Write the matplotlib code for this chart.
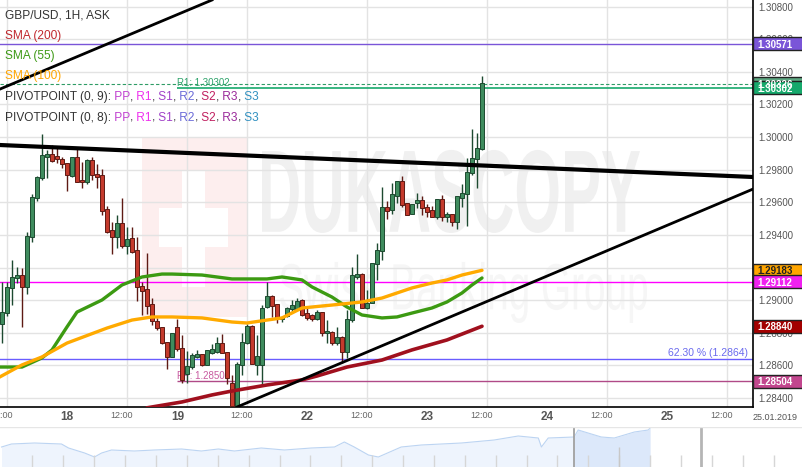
import matplotlib
matplotlib.use("Agg")
import matplotlib.pyplot as plt
import numpy as np
from matplotlib.patches import Rectangle, PathPatch
from matplotlib.textpath import TextPath
from matplotlib.font_manager import FontProperties
from matplotlib.transforms import Affine2D, blended_transform_factory

plt.rcParams['font.family'] = ['Liberation Sans', 'DejaVu Sans']

# hourly candles, hour 0 = 17 Jan 12:00
hours = list(range(-1, 96))
opens = [1.28854, 1.28921, 1.29075, 1.29136, 1.29154, 1.29081, 1.29387, 1.29626, 1.29749, 1.29878,
         1.29896, 1.29884, 1.29865, 1.29841, 1.29761, 1.29878, 1.29737, 1.29724, 1.29859, 1.29773,
         1.29767, 1.29559, 1.29430, 1.29387, 1.29473, 1.29332, 1.29381, 1.29308, 1.29087, 1.29068,
         1.28977, 1.28872, 1.28836, 1.28744, 1.28652, 1.28836, 1.28707, 1.28547, 1.28590, 1.28652,
         1.28670, 1.28603, 1.28676, 1.28682, 1.28737, 1.28682, 1.28492, 1.28351, 1.28603, 1.28737,
         1.28842, 1.28603, 1.28603, 1.28958, 1.29026, 1.28977, 1.28884, 1.28903, 1.28946, 1.28946,
         1.29001, 1.28921, 1.28909, 1.28884, 1.28927, 1.28799, 1.28805, 1.28737, 1.28774, 1.28682,
         1.28878, 1.29142, 1.29160, 1.28952, 1.28983, 1.29222, 1.29301, 1.29571, 1.29553, 1.29638,
         1.29730, 1.29596, 1.29528, 1.29596, 1.29614, 1.29571, 1.29553, 1.29510, 1.29620, 1.29510,
         1.29528, 1.29479, 1.29626, 1.29651, 1.29780, 1.29865, 1.29927]
highs = [1.29111, 1.29111, 1.29246, 1.29203, 1.29197, 1.29418, 1.29651, 1.29761, 1.30019, 1.29921,
         1.29951, 1.29933, 1.29878, 1.29841, 1.29878, 1.29933, 1.29847, 1.29865, 1.29878, 1.29835,
         1.29804, 1.29577, 1.29479, 1.29522, 1.29626, 1.29449, 1.29449, 1.29387, 1.29111, 1.29289,
         1.29013, 1.28891, 1.28836, 1.28744, 1.28799, 1.28884, 1.28786, 1.28688, 1.28676, 1.28695,
         1.28670, 1.28695, 1.28731, 1.28774, 1.28793, 1.28682, 1.28541, 1.28621, 1.28799, 1.28854,
         1.28848, 1.28786, 1.28970, 1.29111, 1.29032, 1.28977, 1.28903, 1.28958, 1.29001, 1.29013,
         1.29007, 1.28958, 1.28915, 1.28940, 1.28927, 1.28878, 1.28811, 1.28836, 1.28780, 1.28940,
         1.29203, 1.29283, 1.29167, 1.29062, 1.29228, 1.29350, 1.29694, 1.29608, 1.29718, 1.29730,
         1.29761, 1.29596, 1.29589, 1.29657, 1.29638, 1.29589, 1.29577, 1.29620, 1.29645, 1.29540,
         1.29528, 1.29638, 1.29712, 1.29872, 1.30049, 1.30025, 1.30374]
lows = [1.28737, 1.28903, 1.28970, 1.29105, 1.28836, 1.29038, 1.29357, 1.29608, 1.29737, 1.29749,
        1.29847, 1.29841, 1.29810, 1.29669, 1.29755, 1.29724, 1.29688, 1.29712, 1.29737, 1.29688,
        1.29522, 1.29412, 1.29283, 1.29320, 1.29320, 1.29283, 1.29289, 1.28995, 1.28909, 1.28915,
        1.28848, 1.28817, 1.28731, 1.28578, 1.28652, 1.28688, 1.28492, 1.28492, 1.28578, 1.28646,
        1.28596, 1.28603, 1.28670, 1.28676, 1.28676, 1.28486, 1.28351, 1.28351, 1.28541, 1.28731,
        1.28609, 1.28541, 1.28480, 1.28952, 1.28897, 1.28860, 1.28866, 1.28897, 1.28927, 1.28940,
        1.28903, 1.28878, 1.28872, 1.28878, 1.28780, 1.28737, 1.28725, 1.28725, 1.28615, 1.28646,
        1.28866, 1.29130, 1.28952, 1.28946, 1.28983, 1.29124, 1.29246, 1.29498, 1.29528, 1.29596,
        1.29571, 1.29522, 1.29528, 1.29565, 1.29522, 1.29510, 1.29510, 1.29498, 1.29485, 1.29479,
        1.29455, 1.29436, 1.29571, 1.29455, 1.29767, 1.29688, 1.29921]
closes = [1.28927, 1.29081, 1.29142, 1.29154, 1.29081, 1.29393, 1.29632, 1.29755, 1.29890, 1.29896,
          1.29853, 1.29865, 1.29835, 1.29767, 1.29878, 1.29724, 1.29724, 1.29859, 1.29767, 1.29755,
          1.29547, 1.29418, 1.29387, 1.29473, 1.29332, 1.29375, 1.29295, 1.29081, 1.29056, 1.28964,
          1.28872, 1.28829, 1.28737, 1.28652, 1.28799, 1.28701, 1.28511, 1.28596, 1.28664, 1.28670,
          1.28603, 1.28695, 1.28701, 1.28737, 1.28676, 1.28523, 1.28351, 1.28609, 1.28744, 1.28842,
          1.28609, 1.28658, 1.28952, 1.29026, 1.28964, 1.28891, 1.28897, 1.28952, 1.28970, 1.28995,
          1.28909, 1.28891, 1.28884, 1.28927, 1.28799, 1.28811, 1.28737, 1.28774, 1.28682, 1.28884,
          1.29154, 1.29160, 1.28952, 1.28983, 1.29228, 1.29308, 1.29571, 1.29547, 1.29651, 1.29730,
          1.29583, 1.29522, 1.29589, 1.29614, 1.29565, 1.29540, 1.29510, 1.29620, 1.29510, 1.29528,
          1.29479, 1.29638, 1.29657, 1.29786, 1.29872, 1.29933, 1.30331]

# moving averages
sma55_h = [-2, 3, 7, 9, 12, 14, 19, 23, 27, 31, 33, 39, 45, 52, 55, 59, 61, 65, 68, 71, 75, 78, 81, 85, 88, 91, 93, 95]
sma55 = [1.28590, 1.28590, 1.28646, 1.28695, 1.28836, 1.28927, 1.29001, 1.29093, 1.29142, 1.29160,
         1.29160, 1.29154, 1.29130, 1.29130, 1.29142, 1.29124, 1.29081, 1.29019, 1.28958, 1.28909,
         1.28891, 1.28897, 1.28921, 1.28952, 1.28989, 1.29044, 1.29093, 1.29136]
sma100_h = [-2, 3, 7, 12, 20, 25, 29, 33, 39, 45, 48, 52, 55, 59, 65, 71, 75, 78, 81, 85, 88, 91, 95]
sma100 = [1.28520, 1.28603, 1.28652, 1.28737, 1.28829, 1.28878, 1.28897, 1.28897, 1.28891, 1.28866,
          1.28860, 1.28878, 1.28891, 1.28952, 1.28970, 1.28989, 1.29013, 1.29044, 1.29075, 1.29105,
          1.29124, 1.29154, 1.29183]
sma200_h = [28, 35, 41, 45, 52, 59, 62, 68, 75, 81, 88, 95]
sma200 = [1.28340, 1.28376, 1.28419, 1.28443, 1.28480, 1.28511, 1.28535, 1.28590, 1.28633, 1.28695,
          1.28756, 1.28840]

# trend lines (hour, price)
trend_lines = [([-1.4, 41.0], [1.30294, 1.30840], 2.0),
               ([-1.4, 149.2], [1.29951, 1.29755], 3.0),
               ([46.0, 149.2], [1.28345, 1.29681], 2.0)]

level_fibo = 1.2864
level_r1 = 1.30302
level_pp = 1.28504
level_last = 1.30326
level_purple = 1.30571
level_magenta = 1.29112

box_levels = [1.30571, 1.30326, 1.30302, 1.29183, 1.29112, 1.28840, 1.28504]
box_fill = ['#7a55d8', '#5ea882', '#16a96c', '#ffa500', '#f020f0', '#a30000', '#c2468e']
box_text = ['white', 'white', 'white', '#222222', 'white', 'white', 'white']

tick_pos = [-1, 12, 23, 34.2, 47, 60, 71, 84, 95, 108, 119, 132, 143]
tick_lab = ['12:00', '18', '12:00', '19', '12:00', '22', '12:00', '23', '12:00', '24', '12:00', '25', '12:00']

# navigator series (day, value)
nav_t = [0, 0.32, 1.07, 1.94, 2.17, 2.69, 3.01, 3.24, 3.56, 4.30, 4.95, 5.83, 6.47, 7.02, 7.54, 8.41,
         9.16, 10.03, 10.78, 11.10, 11.42, 11.88, 12.20, 12.94, 13.59, 14.89, 15.95, 16.73, 17.38,
         17.48, 17.70, 18.54, 18.67, 19.42, 19.84, 20.49, 20.94, 21.0]
nav_v = [1.286, 1.292, 1.294, 1.292, 1.284, 1.274, 1.266, 1.274, 1.280, 1.278, 1.280, 1.282, 1.278,
         1.282, 1.278, 1.284, 1.280, 1.284, 1.286, 1.296, 1.286, 1.270, 1.266, 1.286, 1.290, 1.294,
         1.300, 1.308, 1.304, 1.286, 1.304, 1.306, 1.320, 1.306, 1.304, 1.316, 1.320, 1.324]

W, H = 803, 467
fig = plt.figure(figsize=(W / 100, H / 100), dpi=100)
ax = fig.add_axes([0, 1 - 407 / H, 753 / W, 407 / H])
ymin, ymax = 1.28345, 1.30840
ax.set_xlim(-1.4, 149.2)
ax.set_ylim(ymin, ymax)

# watermark
ax.add_patch(Rectangle((27, 1.28897), 21, 0.01103, facecolor='#fdeeee', edgecolor='none', zorder=0.3))
ax.add_patch(Rectangle((35, 1.29081), 4.6, 0.00717, facecolor='white', edgecolor='none', zorder=0.35))
ax.add_patch(Rectangle((30.4, 1.29326), 13.8, 0.00239, facecolor='white', edgecolor='none', zorder=0.35))


def watermark(s, x0, x1, y0, y1, color, weight):
    tp = TextPath((0, 0), s, size=1, prop=FontProperties(family='Liberation Sans', weight=weight))
    bb = tp.get_extents()
    tr = Affine2D().translate(-bb.x0, -bb.y0).scale((x1 - x0) / bb.width, (y1 - y0) / bb.height).translate(x0, y0)
    ax.add_patch(PathPatch(tr.transform_path(tp), facecolor=color, edgecolor='none', zorder=0.4))


watermark('DUKASCOPY', 51, 126.6, 1.29412, 1.29921, '#f0f0f0', 'bold')
watermark('Swiss Banking Group', 54.6, 128, 1.28860, 1.29234, '#f6f6f6', 'normal')

# grid
ax.set_yticks(np.arange(1.284, 1.3081, 0.002))
ax.set_yticklabels(['%.5f' % v for v in np.arange(1.284, 1.3081, 0.002)])
ax.yaxis.tick_right()
ax.set_xticks(np.arange(0, 145, 12), minor=True)
ax.set_xticks(tick_pos)
ax.set_xticklabels(tick_lab)
ax.grid(axis='y', which='major', color='#e3e3e3', lw=1)
ax.grid(axis='x', which='minor', color='#e3e3e3', lw=1)
ax.tick_params(which='both', length=0)
ax.tick_params(axis='y', pad=4, labelsize=7, labelcolor='#555555')
ax.tick_params(axis='x', pad=3)
for lbl in ax.get_xticklabels():
    if ':' in lbl.get_text():
        lbl.set_fontsize(6.5)
        lbl.set_color('#666666')
    else:
        lbl.set_fontsize(8.5)
        lbl.set_fontweight('bold')
        lbl.set_color('#555555')
for s in ['top', 'left']:
    ax.spines[s].set_visible(False)
for s in ['right', 'bottom']:
    ax.spines[s].set_color('black')
    ax.spines[s].set_linewidth(1.2)

# horizontal levels
ax.axhline(level_purple, color='#7a55d8', lw=1, zorder=2)
ax.axhline(level_magenta, color='#ff00ff', lw=1, zorder=2)
ax.axhline(level_fibo, color='#6a5cff', lw=1, zorder=2)
ax.axhline(level_last, color='#2f9c66', lw=0.8, ls=(0, (3, 2)), zorder=2)
ax.hlines(level_r1, 34, 149.2, color='#16a96c', lw=1.2, zorder=2)
ax.hlines(level_pp, 34, 149.2, color='#b04a88', lw=1, zorder=2)
ax.text(34, level_r1 + 0.00001, 'R1: 1.30302', color='#2ea36b', fontsize=7, ha='left', va='bottom', zorder=2)
ax.text(34, level_pp + 0.00002, 'PP: 1.28504', color='#c85aa0', fontsize=7, ha='left', va='bottom', zorder=2)
trans = blended_transform_factory(ax.transAxes, ax.transData)
ax.text(0.993, level_fibo + 0.00005, '62.30 % (1.2864)', transform=trans, color='#6a6aee',
        fontsize=7.5, ha='right', va='bottom', zorder=2)

# candles
o = np.array(opens); c = np.array(closes)
up = c >= o
fill = np.where(up, '#3f8c5e', '#c43a2c')
edge = np.where(up, '#1d4a30', '#5e1a14')
ax.vlines(hours, lows, highs, colors=edge, lw=1, zorder=3)
body = np.maximum(np.abs(c - o), 0.00003)
ax.bar(hours, body, bottom=np.minimum(o, c), width=0.62, color=fill, edgecolor=edge, linewidth=0.7, zorder=3.1)

# moving averages
ax.plot(sma55_h, sma55, color='#3c9a12', lw=2.4, zorder=4, solid_capstyle='round')
ax.plot(sma100_h, sma100, color='#ffaa00', lw=2.4, zorder=4, solid_capstyle='round')
ax.plot(sma200_h, sma200, color='#a0101e', lw=2.6, zorder=4, solid_capstyle='round')

for xs, ys, lw in trend_lines:
    ax.plot(xs, ys, color='black', lw=lw, zorder=5)

# price boxes on the right axis
bw = 50 / 753
bh = 13 * (ymax - ymin) / 407
for val, fc, tc in zip(box_levels, box_fill, box_text):
    ax.add_patch(Rectangle((1.0, val - bh / 2), bw, bh, transform=trans, facecolor=fc, edgecolor='#222222',
                           lw=1, clip_on=False, zorder=10))
    ax.text(1.0 + 4 / 753, val, '%.5f' % val, transform=trans, ha='left', va='center_baseline', color=tc,
            fontsize=7, fontweight='bold', clip_on=False, zorder=11)

fig.text(775 / W, 1 - 417 / H, '25.01.2019', ha='center', va='center', fontsize=6.5, color='#555555')

# legend texts
fig.text(5 / W, 1 - 16 / H, 'GBP/USD, 1H, ASK', color='#333333', fontsize=8.6, va='center')
fig.text(5 / W, 1 - 36 / H, 'SMA (200)', color='#c0282d', fontsize=8.6, va='center')
fig.text(5 / W, 1 - 56 / H, 'SMA (55)', color='#3e9a16', fontsize=8.6, va='center')
fig.text(5 / W, 1 - 76 / H, 'SMA (100)', color='#ffa500', fontsize=8.6, va='center')

renderer = fig.canvas.get_renderer()
piv_cols = [('PP', '#c040d0'), ('R1', '#ee30ee'), ('S1', '#a040c8'), ('R2', '#6a6ad8'),
            ('S2', '#c02060'), ('R3', '#9a2a9a'), ('S3', '#3090c0')]
for row_y, head in [(100, 'PIVOTPOINT (0, 9):'), (121, 'PIVOTPOINT (0, 8):')]:
    x = 5
    parts = [(head, '#333333')]
    for i, (name, col) in enumerate(piv_cols):
        parts.append((' ' + name, col))
        if i < len(piv_cols) - 1:
            parts.append((',', '#333333'))
    for s, col in parts:
        t = fig.text(x / W, 1 - row_y / H, s, color=col, fontsize=8.6, va='baseline')
        x += t.get_window_extent(renderer).width

# navigator
nav = fig.add_axes([0, 0, 1, 40 / H])
nav.set_xlim(-0.05, 25.95)
nav.set_ylim(1.246, 1.326)
nav.axis('off')
t = np.array(nav_t); v = np.array(nav_v)
a = t <= 18.54
b = t >= 18.54
nav.fill_between(t[a], 1.246, v[a], color='#eef4fd', lw=0)
nav.fill_between(t[b], 1.246, v[b], color='#dce8fa', lw=0)
nav.plot(t, v, color='#bcd4f2', lw=0.8)
nav.vlines(np.arange(1, 26), 1.246, 1.270, colors='#d6d6d6', lw=1)
nav.vlines([20], 1.246, 1.286, colors='#c8c8c8', lw=1)
nav.vlines([18.54], 1.246, 1.326, colors='#a0a0a0', lw=1.3)
nav.vlines([22.65], 1.246, 1.326, colors='#b5b5b5', lw=2)
nav.axhline(1.3255, color='#e6e6e6', lw=1)

fig.savefig('out.png', dpi=100)
